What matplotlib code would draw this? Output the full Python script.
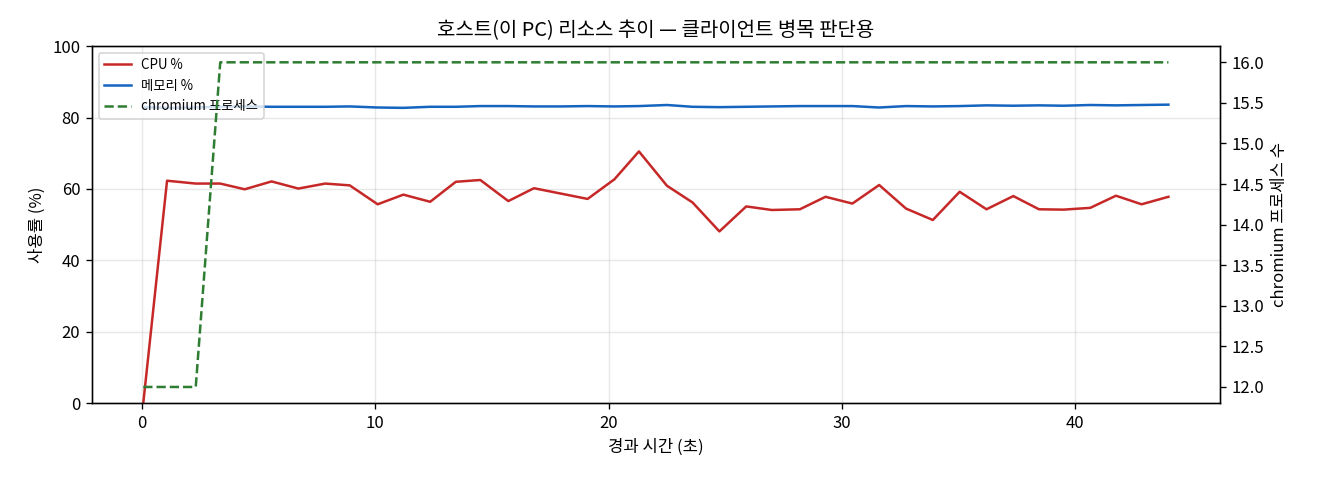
import matplotlib
matplotlib.use("Agg")
import matplotlib.pyplot as plt

plt.rcParams['font.family'] = ['Noto Sans CJK KR', 'DejaVu Sans']
plt.rcParams['axes.unicode_minus'] = False

# sample times (s)
elapsed = [0.05, 1.07, 2.3, 3.35, 4.4, 5.55, 6.7, 7.85, 8.9, 10.1,
           11.2, 12.35, 13.45, 14.5, 15.7, 16.8, 17.95, 19.1, 20.25, 21.3,
           22.5, 23.6, 24.75, 25.9, 27.0, 28.2, 29.3, 30.45, 31.6, 32.75,
           33.9, 35.05, 36.2, 37.35, 38.45, 39.5, 40.65, 41.75, 42.85, 44.0]

cpu = [0.0, 62.3, 61.5, 61.5, 59.9, 62.1, 60.1, 61.5, 61.0, 55.7,
       58.4, 56.4, 62.0, 62.5, 56.6, 60.2, 58.7, 57.2, 62.7, 70.5,
       60.9, 56.2, 48.1, 55.1, 54.1, 54.3, 57.8, 55.9, 61.1, 54.5,
       51.3, 59.2, 54.3, 58.0, 54.3, 54.2, 54.7, 58.1, 55.7, 57.8]

mem = [82.9, 82.7, 82.8, 83.0, 83.1, 83.0, 83.0, 83.0, 83.1, 82.8,
       82.7, 83.0, 83.0, 83.2, 83.2, 83.1, 83.1, 83.2, 83.1, 83.2,
       83.5, 83.0, 82.9, 83.0, 83.1, 83.2, 83.2, 83.2, 82.8, 83.2,
       83.1, 83.2, 83.4, 83.3, 83.4, 83.3, 83.5, 83.4, 83.5, 83.6]

procs = [12, 12, 12] + [16] * 37

fig, ax = plt.subplots(figsize=(11, 4), dpi=120)
fig.subplots_adjust(left=0.0697, right=0.924, top=0.904, bottom=0.160)

l1, = ax.plot(elapsed, cpu, color='#c62828', lw=1.5, label='CPU %')
l2, = ax.plot(elapsed, mem, color='#1565c0', lw=1.5, label='메모리 %')
ax.set_ylim(0, 100)
ax.set_xlabel('경과 시간 (초)')
ax.set_ylabel('사용률 (%)')
ax.grid(alpha=0.3)

ax2 = ax.twinx()
l3, = ax2.plot(elapsed, procs, color='#2e7d32', lw=1.5, ls='--', label='chromium 프로세스')
ax2.set_ylabel('chromium 프로세스 수')

ax.legend(handles=[l1, l2, l3], loc='upper left', fontsize=8)
ax.set_title('호스트(이 PC) 리소스 추이 — 클라이언트 병목 판단용')

fig.savefig('out.png')
